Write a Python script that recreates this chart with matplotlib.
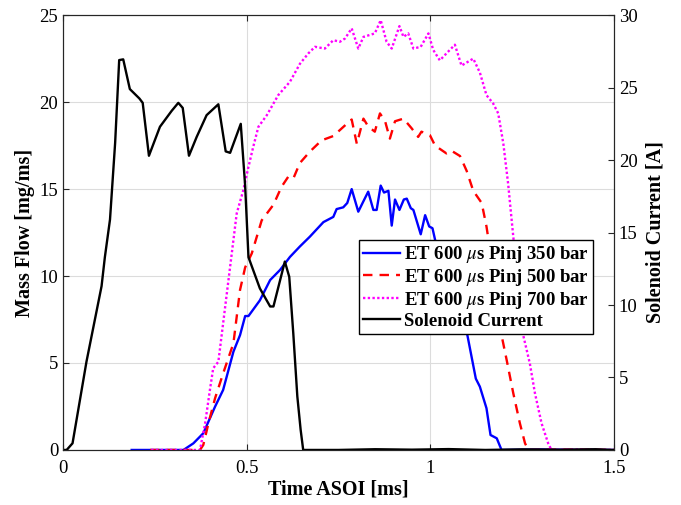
import numpy as np
import matplotlib.pyplot as plt

plt.rcParams['font.family'] = ['Liberation Serif', 'DejaVu Serif']
plt.rcParams['mathtext.fontset'] = 'stix'

# solenoid current [A], right axis
t_cur = [0.0, 0.01, 0.026, 0.064, 0.092, 0.105, 0.114, 0.128, 0.142, 0.153, 0.164,
         0.182, 0.208, 0.217, 0.234, 0.264, 0.296, 0.314, 0.326, 0.343, 0.364,
         0.391, 0.423, 0.443, 0.455, 0.484, 0.496, 0.505, 0.536, 0.564, 0.573,
         0.604, 0.616, 0.627, 0.638, 0.647, 0.654, 0.75, 0.85, 0.95, 1.05,
         1.15, 1.25, 1.35, 1.45, 1.5]
i_cur = [0.0, 0.0, 0.46, 6.1, 9.65, 11.3, 13.3, 15.9, 21.2, 26.9, 26.95,
         24.9, 24.25, 23.95, 20.3, 22.3, 23.4, 23.95, 23.6, 20.3, 21.6,
         23.1, 23.85, 20.6, 20.5, 22.5, 18.2, 13.3, 11.15, 9.9, 9.9,
         13.0, 11.95, 8.05, 3.7, 1.4, 0.0, 0.0, 0.05, 0.02, 0.06,
         0.0, 0.04, 0.02, 0.05, 0.0]

# mass flow [mg/ms], Pinj 350 bar
t_350 = [0.187, 0.328, 0.355, 0.382, 0.414, 0.436, 0.464, 0.482, 0.496, 0.505,
         0.536, 0.564, 0.591, 0.618, 0.645, 0.672, 0.709, 0.736, 0.745, 0.763,
         0.774, 0.786, 0.804, 0.818, 0.831, 0.845, 0.854, 0.865, 0.874, 0.886,
         0.895, 0.904, 0.916, 0.928, 0.936, 0.947, 0.954, 0.974, 0.986, 0.997,
         1.006, 1.015, 1.03, 1.05, 1.08, 1.101, 1.124, 1.135, 1.153, 1.164,
         1.181, 1.194, 1.3, 1.4, 1.5]
m_350 = [0.0, 0.0, 0.38, 0.96, 2.49, 3.45, 5.65, 6.6, 7.7, 7.7,
         8.6, 9.77, 10.35, 11.1, 11.7, 12.26, 13.1, 13.4, 13.85, 13.95,
         14.2, 15.0, 13.7, 14.3, 14.85, 13.8, 13.8, 15.2, 14.8, 14.9,
         12.9, 14.4, 13.8, 14.4, 14.45, 13.9, 13.8, 12.4, 13.5, 12.85,
         12.75, 11.9, 11.0, 9.8, 8.0, 6.6, 4.1, 3.64, 2.4, 0.86,
         0.67, 0.0, 0.03, 0.0, 0.0]

# Pinj 500 bar
t_500 = [0.237, 0.373, 0.382, 0.396, 0.414, 0.436, 0.464, 0.482, 0.496, 0.514,
         0.541, 0.573, 0.595, 0.613, 0.627, 0.645, 0.672, 0.704, 0.736, 0.773,
         0.786, 0.8, 0.818, 0.831, 0.849, 0.863, 0.877, 0.89, 0.904, 0.927,
         0.949, 0.967, 0.976, 0.999, 1.013, 1.044, 1.058, 1.081, 1.099, 1.117,
         1.14, 1.153, 1.17, 1.194, 1.208, 1.226, 1.244, 1.258, 1.267, 1.35, 1.5]
m_500 = [0.0, 0.0, 0.29, 1.53, 2.97, 4.4, 6.13, 9.2, 10.5, 11.3,
         13.2, 14.1, 15.13, 15.7, 15.6, 16.5, 17.15, 17.8, 18.05, 18.76,
         19.0, 17.6, 19.05, 18.6, 18.3, 19.35, 18.9, 17.9, 18.9, 19.05,
         18.5, 18.0, 18.3, 18.1, 17.5, 17.05, 17.2, 16.9, 16.05, 14.9,
         14.2, 12.85, 10.5, 6.6, 5.17, 3.26, 1.53, 0.38, 0.0, 0.02, 0.0]

# Pinj 700 bar
t_700 = [0.24, 0.373, 0.387, 0.4, 0.409, 0.423, 0.436, 0.455, 0.473, 0.491,
         0.505, 0.518, 0.532, 0.555, 0.586, 0.618, 0.645, 0.668, 0.686, 0.713,
         0.736, 0.754, 0.768, 0.786, 0.804, 0.818, 0.849, 0.865, 0.881, 0.895,
         0.916, 0.927, 0.94, 0.954, 0.974, 0.995, 1.008, 1.026, 1.044, 1.067,
         1.085, 1.117, 1.135, 1.153, 1.171, 1.185, 1.199, 1.212, 1.226, 1.24,
         1.253, 1.271, 1.285, 1.303, 1.321, 1.33, 1.4, 1.5]
m_700 = [0.0, 0.0, 1.53, 3.45, 4.7, 5.07, 7.28, 10.53, 13.6, 14.94,
         16.28, 17.43, 18.58, 19.25, 20.4, 21.17, 22.2, 22.8, 23.18, 23.08,
         23.56, 23.47, 23.66, 24.24, 23.08, 23.75, 23.95, 24.71, 23.47, 23.08,
         24.37, 23.75, 23.95, 23.08, 23.18, 23.95, 23.0, 22.4, 22.8, 23.3,
         22.1, 22.5, 21.7, 20.4, 19.93, 19.35, 17.6, 15.3, 12.26, 9.5,
         6.6, 4.98, 3.26, 1.53, 0.38, 0.0, 0.03, 0.0]

labels = ['ET 600 $\\mu$s Pinj 350 bar', 'ET 600 $\\mu$s Pinj 500 bar',
          'ET 600 $\\mu$s Pinj 700 bar', 'Solenoid Current']

fig = plt.figure(figsize=(6.81, 5.05), dpi=100)
ax = fig.add_axes([0.0925, 0.109, 0.809, 0.861])
ax2 = ax.twinx()

l1, = ax.plot(t_350, m_350, color='#0000ff', lw=1.7, ls='-')
l2, = ax.plot(t_500, m_500, color='#ff0000', lw=1.7, ls=(0, (4, 3)))
l3, = ax.plot(t_700, m_700, color='#ff00ff', lw=1.7, ls=(0, (1, 1)))
l4, = ax2.plot(t_cur, i_cur, color='black', lw=1.7)

ax.set_xlim(0, 1.5)
ax.set_ylim(0, 25)
ax2.set_ylim(0, 30)
ax.set_xticks([0, 0.5, 1, 1.5])
ax.set_xticklabels(['0', '0.5', '1', '1.5'])
ax.set_yticks([0, 5, 10, 15, 20, 25])
ax2.set_yticks([0, 5, 10, 15, 20, 25, 30])
ax.grid(True, color='#dcdcdc', lw=0.8)
ax.set_axisbelow(True)

for a in (ax, ax2):
    a.tick_params(direction='in', labelsize=13.5, length=4, colors='#262626',
                  labelcolor='black')
    for s in a.spines.values():
        s.set_color('#262626')
ax.tick_params(axis='x', pad=7)
ax.tick_params(axis='x', top=True)

ax.set_xlabel('Time ASOI [ms]', fontsize=14.5, fontweight='bold', labelpad=2)
ax.set_ylabel('Mass Flow [mg/ms]', fontsize=14.5, fontweight='bold', labelpad=3)
ax2.set_ylabel('Solenoid Current [A]', fontsize=14.5, fontweight='bold', labelpad=6)

leg = ax2.legend([l1, l2, l3, l4], labels, loc='upper left',
                 bbox_to_anchor=(0.537, 0.482), fancybox=False, framealpha=1,
                 edgecolor='black', handlelength=2.0, handletextpad=0.2,
                 labelspacing=0.1, borderpad=0.2, borderaxespad=0,
                 prop={'weight': 'bold', 'size': 13.5})
leg.get_frame().set_linewidth(1.0)

fig.savefig('out.png', dpi=100)
